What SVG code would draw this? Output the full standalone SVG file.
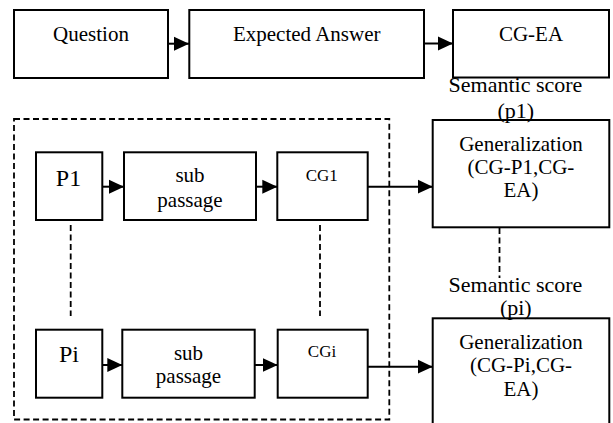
<svg xmlns="http://www.w3.org/2000/svg" width="613" height="423" viewBox="0 0 613 423">
<style>
.box{fill:#fff;stroke:#000;stroke-width:2}
.t{font-family:"Liberation Serif","Times New Roman",serif;fill:#000;text-anchor:middle}
.f21{font-size:21px}
.f22{font-size:22px}
.f24{font-size:24px}
.f17{font-size:17px}
.ln{fill:none;stroke:#000;stroke-width:2}
.dash{fill:none;stroke:#000;stroke-width:1.8;stroke-dasharray:6 3.5}
</style>
<defs>
<marker id="ah" markerUnits="userSpaceOnUse" markerWidth="16" markerHeight="16" viewBox="0 0 16 16" refX="15" refY="8" orient="auto">
<path d="M0,1 L15,8 L0,15 Z" fill="#000"/>
</marker>
</defs>
<rect class="dash" x="14" y="119" width="375.3" height="300.5"/>
<g id="connectors">
<line class="ln" x1="168" y1="43.7" x2="189" y2="43.7" marker-end="url(#ah)"/>
<line class="ln" x1="424" y1="43.5" x2="453" y2="43.5" marker-end="url(#ah)"/>
<line class="ln" x1="102.3" y1="186.7" x2="124" y2="186.7" marker-end="url(#ah)"/>
<line class="ln" x1="256" y1="186.7" x2="277.3" y2="186.7" marker-end="url(#ah)"/>
<line class="ln" x1="367.7" y1="186.7" x2="432.7" y2="186.7" marker-end="url(#ah)"/>
<line class="ln" x1="102.3" y1="365" x2="122.3" y2="365" marker-end="url(#ah)"/>
<line class="ln" x1="254.7" y1="365" x2="277.7" y2="365" marker-end="url(#ah)"/>
<line class="ln" x1="367.7" y1="366.7" x2="432.7" y2="366.7" marker-end="url(#ah)"/>
<line class="dash" x1="70.7" y1="225" x2="70.7" y2="316"/>
<line class="dash" x1="320" y1="225" x2="320" y2="316"/>
<line class="dash" x1="499.5" y1="228" x2="499.5" y2="278"/>
</g>
<g id="question">
<rect class="box" x="14" y="10" width="154" height="68"/>
<text class="t f21" x="91" y="41">Question</text>
</g>
<g id="expected-answer">
<rect class="box" x="189.3" y="10" width="234.7" height="68"/>
<text class="t f21" x="306.7" y="41">Expected Answer</text>
</g>
<g id="cg-ea">
<rect class="box" x="453" y="10" width="156" height="67.5"/>
<text class="t f21" x="531" y="41">CG-EA</text>
</g>
<g id="score-p1">
<text class="t f22" x="515.5" y="91.7">Semantic score</text>
<text class="t f22" x="515.8" y="118">(p1)</text>
</g>
<g id="gen1">
<rect class="box" x="432.7" y="120" width="176.6" height="107.3" fill-opacity="0"/>
<text class="t f21" x="521" y="150.7">Generalization</text>
<text class="t f21" x="521" y="173.5">(CG-P1,CG-</text>
<text class="t f21" x="521" y="197.3">EA)</text>
</g>
<g id="score-pi">
<text class="t f22" x="515.5" y="291.7">Semantic score</text>
<text class="t f22" x="515.8" y="315">(pi)</text>
</g>
<g id="gen2">
<rect class="box" x="432.7" y="318.3" width="176.6" height="110" fill-opacity="0"/>
<text class="t f21" x="521" y="349.3">Generalization</text>
<text class="t f21" x="521" y="372">(CG-Pi,CG-</text>
<text class="t f21" x="521" y="395.5">EA)</text>
</g>
<g id="p1">
<rect class="box" x="36" y="152.3" width="66.3" height="67.7"/>
<text class="t f24" x="68.5" y="186">P1</text>
</g>
<g id="sub1">
<rect class="box" x="124" y="152.3" width="132" height="67.7"/>
<text class="t f21" x="190" y="181.7">sub</text>
<text class="t f21" x="190" y="206.7">passage</text>
</g>
<g id="cg1">
<rect class="box" x="277.3" y="152.3" width="90.4" height="67.7"/>
<text class="t f17" x="321.7" y="180.7">CG1</text>
</g>
<g id="pi">
<rect class="box" x="36" y="329.7" width="66.3" height="68"/>
<text class="t f24" x="69" y="361.7">Pi</text>
</g>
<g id="sub2">
<rect class="box" x="122.3" y="329.7" width="132.4" height="68"/>
<text class="t f21" x="188.5" y="360">sub</text>
<text class="t f21" x="188.5" y="383.3">passage</text>
</g>
<g id="cgi">
<rect class="box" x="277.7" y="329.7" width="90" height="68"/>
<text class="t f17" x="322" y="357.3">CGi</text>
</g>
</svg>
